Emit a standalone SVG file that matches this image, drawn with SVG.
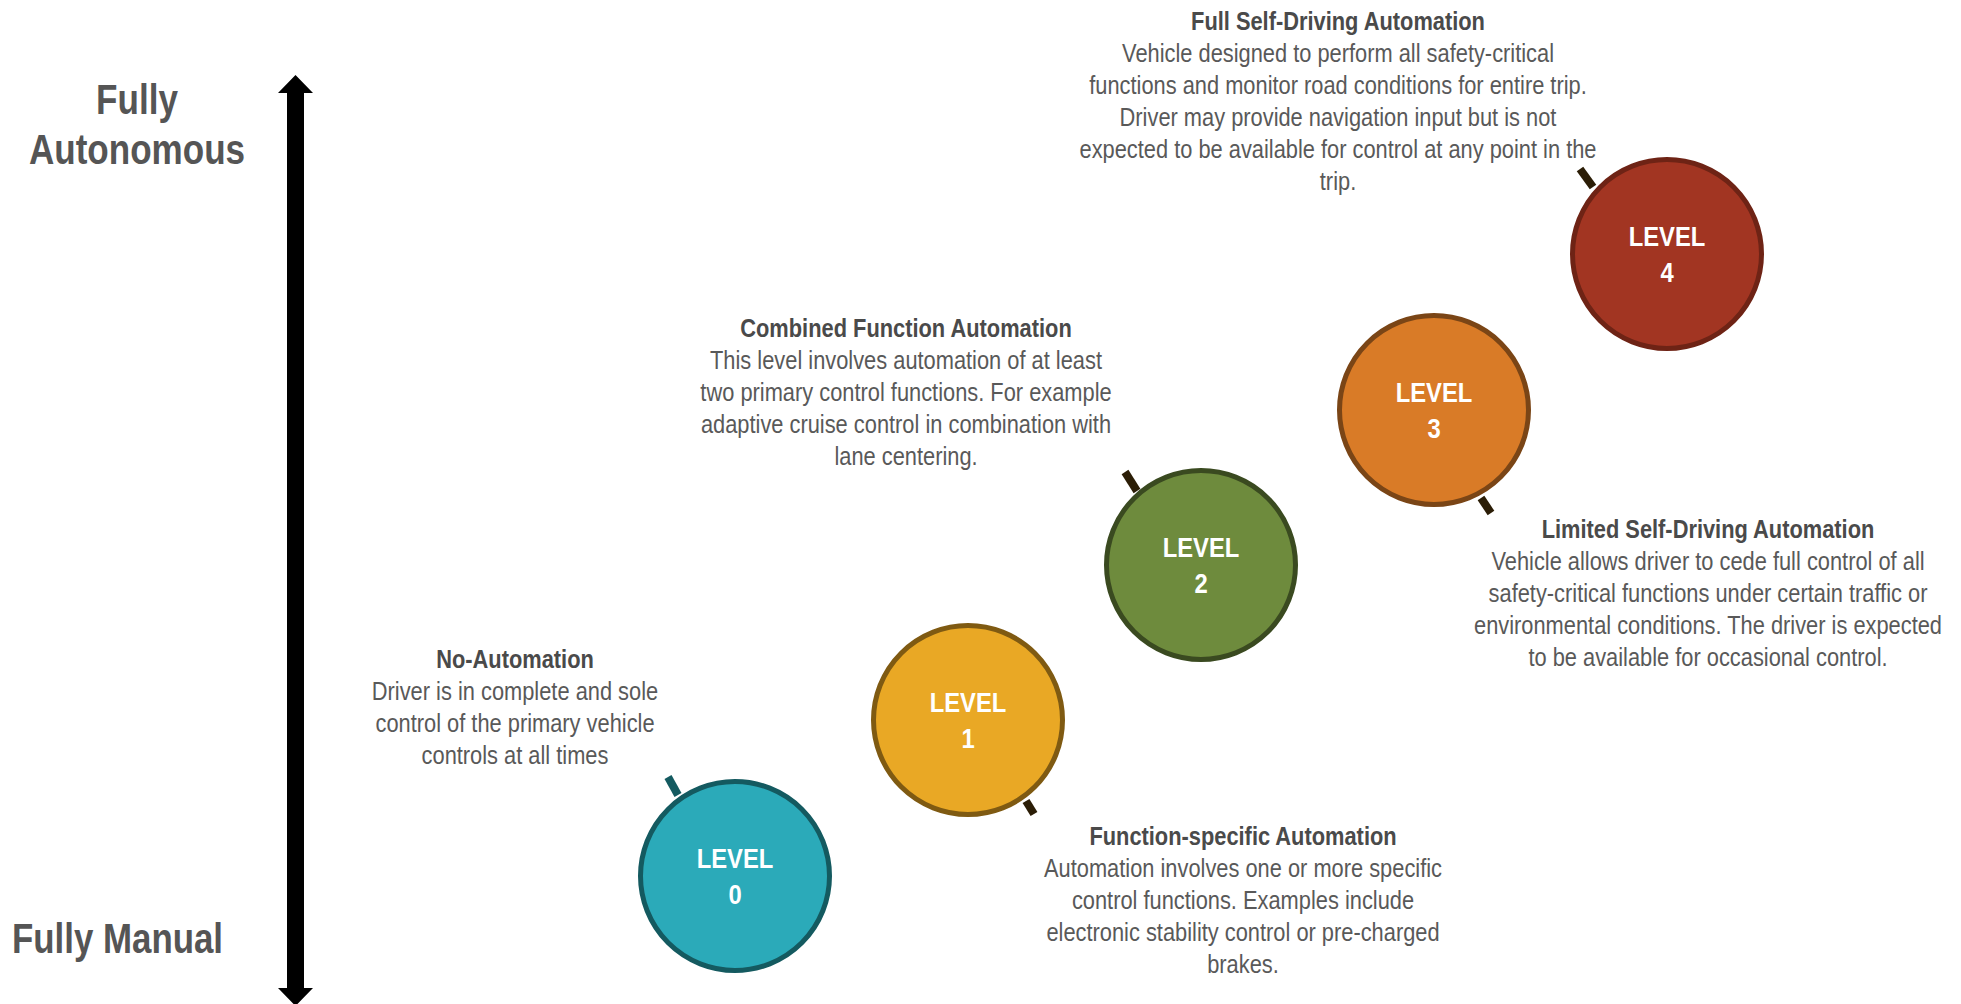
<svg xmlns="http://www.w3.org/2000/svg" width="1961" height="1004" viewBox="0 0 1961 1004">
  <style>
    text { font-family: "Liberation Sans", Arial, sans-serif; }
    .axis-label { font-weight: bold; font-size: 42px; fill: #555555; }
    .title { font-weight: bold; font-size: 26px; fill: #4a4a4a; text-anchor: middle; }
    .desc { font-size: 26px; fill: #595959; text-anchor: middle; }
    .level { font-weight: bold; font-size: 28px; fill: #ffffff; text-anchor: middle; }
    .ring { stroke-width: 5; }
    .tick { stroke-width: 8; fill: none; }
  </style>

  <!-- vertical scale: manual (bottom) to autonomous (top) -->
  <g id="axis">
    <polygon points="295.5,75 313,93 304,93 304,988 313,988 295.5,1006 278,988 287,988 287,93 278,93" fill="#000000"/>
    <g transform="translate(137,0) scale(0.835,1)">
      <text class="axis-label" x="0" y="114" text-anchor="middle">Fully</text>
      <text class="axis-label" x="0" y="164" text-anchor="middle">Autonomous</text>
    </g>
    <g transform="translate(12,0) scale(0.83,1)">
      <text class="axis-label" x="0" y="953">Fully Manual</text>
    </g>
  </g>

  <!-- leader ticks from each circle toward its description -->
  <g id="connectors">
    <line class="tick" x1="668" y1="777" x2="678" y2="795" stroke="#145a60"/>
    <line class="tick" x1="1034" y1="814" x2="1026" y2="801" stroke="#2b1d06"/>
    <line class="tick" x1="1125" y1="472" x2="1137" y2="491" stroke="#2b1d06"/>
    <line class="tick" x1="1491" y1="513" x2="1481" y2="498" stroke="#2b1d06"/>
    <line class="tick" x1="1580" y1="169" x2="1593" y2="187" stroke="#2b1d06"/>
  </g>

  <g id="level0">
    <circle class="ring" cx="735" cy="876" r="94.5" fill="#2baab9" stroke="#145a60"/>
    <g transform="translate(735,0) scale(0.85,1)">
      <text class="level" x="0" y="868">LEVEL</text>
      <text class="level" x="0" y="904">0</text>
    </g>
  </g>
  <g id="level1">
    <circle class="ring" cx="968" cy="720" r="94.5" fill="#e9a825" stroke="#7f5a12"/>
    <g transform="translate(968,0) scale(0.85,1)">
      <text class="level" x="0" y="712">LEVEL</text>
      <text class="level" x="0" y="748">1</text>
    </g>
  </g>
  <g id="level2">
    <circle class="ring" cx="1201" cy="565" r="94.5" fill="#6e8b3d" stroke="#3a4a20"/>
    <g transform="translate(1201,0) scale(0.85,1)">
      <text class="level" x="0" y="557">LEVEL</text>
      <text class="level" x="0" y="593">2</text>
    </g>
  </g>
  <g id="level3">
    <circle class="ring" cx="1434" cy="410" r="94.5" fill="#d97b27" stroke="#7a4516"/>
    <g transform="translate(1434,0) scale(0.85,1)">
      <text class="level" x="0" y="402">LEVEL</text>
      <text class="level" x="0" y="438">3</text>
    </g>
  </g>
  <g id="level4">
    <circle class="ring" cx="1667" cy="254" r="94.5" fill="#a23522" stroke="#6e2315"/>
    <g transform="translate(1667,0) scale(0.85,1)">
      <text class="level" x="0" y="246">LEVEL</text>
      <text class="level" x="0" y="282">4</text>
    </g>
  </g>

  <g id="desc0" transform="translate(515,0) scale(0.84,1)">
    <text class="title" x="0" y="668">No-Automation</text>
    <text class="desc" x="0" y="700">Driver is in complete and sole</text>
    <text class="desc" x="0" y="732">control of the primary vehicle</text>
    <text class="desc" x="0" y="764">controls at all times</text>
  </g>
  <g id="desc1" transform="translate(1243,0) scale(0.84,1)">
    <text class="title" x="0" y="845">Function-specific Automation</text>
    <text class="desc" x="0" y="877">Automation involves one or more specific</text>
    <text class="desc" x="0" y="909">control functions. Examples include</text>
    <text class="desc" x="0" y="941">electronic stability control or pre-charged</text>
    <text class="desc" x="0" y="973">brakes.</text>
  </g>
  <g id="desc2" transform="translate(906,0) scale(0.84,1)">
    <text class="title" x="0" y="337">Combined Function Automation</text>
    <text class="desc" x="0" y="369">This level involves automation of at least</text>
    <text class="desc" x="0" y="401">two primary control functions. For example</text>
    <text class="desc" x="0" y="433">adaptive cruise control in combination with</text>
    <text class="desc" x="0" y="465">lane centering.</text>
  </g>
  <g id="desc3" transform="translate(1708,0) scale(0.84,1)">
    <text class="title" x="0" y="538">Limited Self-Driving Automation</text>
    <text class="desc" x="0" y="570">Vehicle allows driver to cede full control of all</text>
    <text class="desc" x="0" y="602">safety-critical functions under certain traffic or</text>
    <text class="desc" x="0" y="634">environmental conditions. The driver is expected</text>
    <text class="desc" x="0" y="666">to be available for occasional control.</text>
  </g>
  <g id="desc4" transform="translate(1338,0) scale(0.84,1)">
    <text class="title" x="0" y="30">Full Self-Driving Automation</text>
    <text class="desc" x="0" y="62">Vehicle designed to perform all safety-critical</text>
    <text class="desc" x="0" y="94">functions and monitor road conditions for entire trip.</text>
    <text class="desc" x="0" y="126">Driver may provide navigation input but is not</text>
    <text class="desc" x="0" y="158">expected to be available for control at any point in the</text>
    <text class="desc" x="0" y="190">trip.</text>
  </g>
</svg>
